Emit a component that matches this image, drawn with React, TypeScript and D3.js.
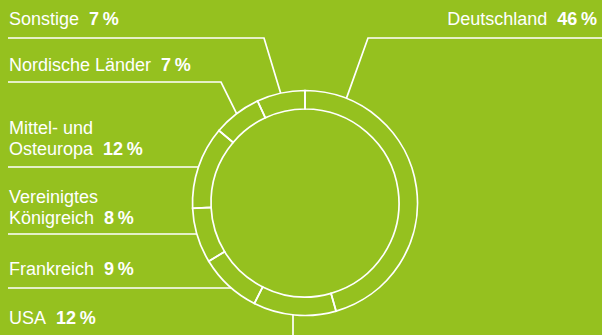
import React from "react";
import * as d3 from "d3";

const categories = ["Deutschland", "USA", "Frankreich", "Vereinigtes Königreich", "Mittel- und Osteuropa", "Nordische Länder", "Sonstige"];
const values = [46, 12, 9, 8, 12, 7, 7];
const labelLines: string[][] = [["Deutschland"], ["USA"], ["Frankreich"], ["Vereinigtes", "Königreich"], ["Mittel- und", "Osteuropa"], ["Nordische Länder"], ["Sonstige"]];

const W = 602, H = 335;
const cx = 305, cy = 203;
const rOuter = 112.5, rInner = 94;
const BG = "#95c11f";
const FONT = "'Liberation Sans', Arial, Helvetica, sans-serif";

export default function App() {
  const pie = d3.pie<number>().sort(null).value((d) => d)(values);
  const arc = d3.arc<d3.PieArcDatum<number>>().innerRadius(rInner).outerRadius(rOuter);
  const pt = (ang: number, r: number) => [cx + Math.sin(ang) * r, cy - Math.cos(ang) * r];
  const yAtLeft = (y: number) => cx - Math.sqrt(rOuter * rOuter - (y - cy) * (y - cy));
  const mid = (i: number) => (pie[i].startAngle + pie[i].endAngle) / 2;

  type L = { i: number; x: number; ys: number[]; anchor: "start" | "end"; path: string };
  const s = pt(mid(6), rOuter);
  const n = pt(mid(5), rOuter);
  const dAnchor = pt((21.6 * Math.PI) / 180, rOuter);
  const usaX = 293;
  const labels: L[] = [
    { i: 0, x: 597, ys: [25], anchor: "end", path: `M${W},38H368L${dAnchor[0]},${dAnchor[1]}` },
    { i: 6, x: 9, ys: [25], anchor: "start", path: `M8,38H264L${s[0]},${s[1]}` },
    { i: 5, x: 9, ys: [71], anchor: "start", path: `M8,82H221L${n[0]},${n[1]}` },
    { i: 4, x: 9, ys: [134, 155], anchor: "start", path: `M8,167H${yAtLeft(167)}` },
    { i: 3, x: 9, ys: [203, 224], anchor: "start", path: `M8,234H${yAtLeft(234)}` },
    { i: 2, x: 9, ys: [275], anchor: "start", path: `M8,288H${yAtLeft(288)}` },
    { i: 1, x: 9, ys: [324], anchor: "start", path: `M${usaX},${cy + Math.sqrt(rOuter * rOuter - (usaX - cx) ** 2)}V${H}` },
  ];

  return (
    <svg width={W} height={H} style={{ position: "fixed", left: 0, top: 0, display: "block" }}>
      <rect width={W} height={H} fill={BG} />
      <g transform={`translate(${cx},${cy})`}>
        {pie.map((p, k) => (
          <path key={k} d={arc(p) || ""} fill="none" stroke="#fff" strokeWidth={1.7} />
        ))}
      </g>
      {labels.map((l, k) => (
        <g key={k}>
          <path d={l.path} fill="none" stroke="#fff" strokeWidth={1.7} />
          <text fill="#fff" fontFamily={FONT} fontSize={18} textAnchor={l.anchor}>
            {labelLines[l.i].map((line, j) => (
              <tspan key={j} x={l.x} y={l.ys[j]}>
                {line}
                {j === labelLines[l.i].length - 1 && (
                  <tspan fontWeight="bold">{"\u00a0 " + values[l.i] + "\u2009%"}</tspan>
                )}
              </tspan>
            ))}
          </text>
        </g>
      ))}
    </svg>
  );
}
